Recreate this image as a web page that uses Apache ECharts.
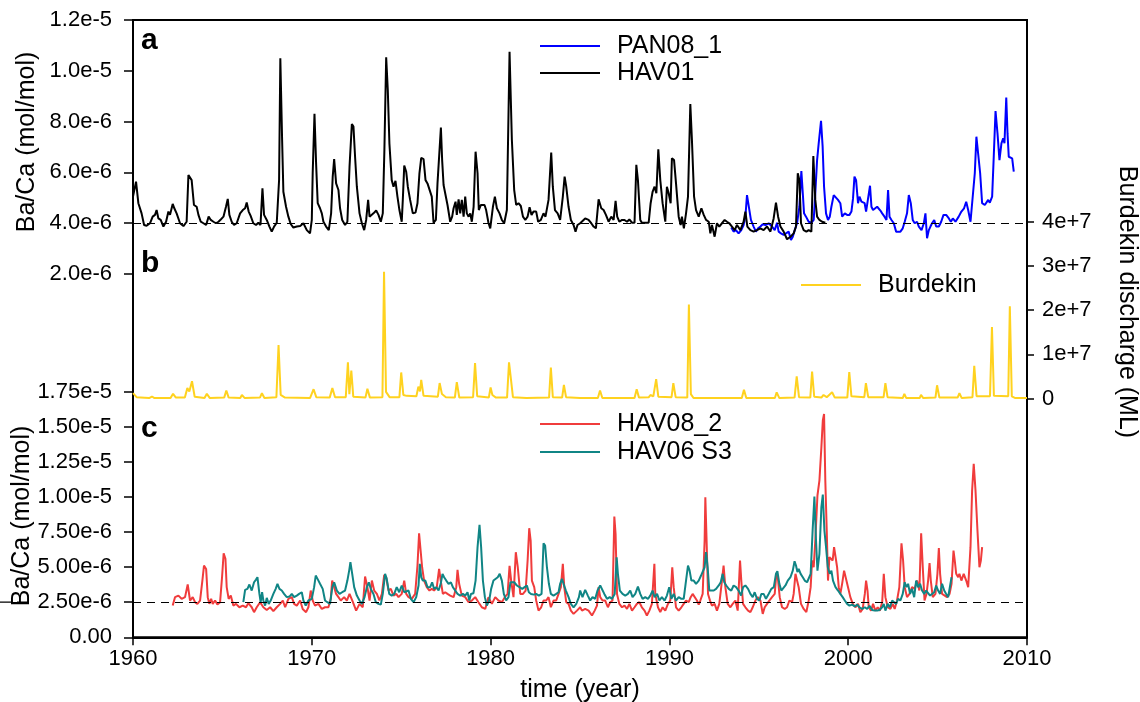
<!DOCTYPE html>
<html>
<head>
<meta charset="utf-8">
<script src="https://cdn.jsdelivr.net/npm/echarts@6/dist/echarts.min.js"></script>
<style>
  html, body { margin: 0; padding: 0; background: #ffffff; }
  #chart { width: 1140px; height: 702px; }
</style>
</head>
<body>
<div id="chart"></div>
<script>
// Ba/Ca records in units of 1e-6 mol/mol, as [decimal year, value]
const pan08_1 = [
  [1993.46,3.82],[1993.59,3.66],[1993.72,3.72],[1993.87,3.59],[1994.02,3.72],[1994.15,3.92],[1994.25,4.25],[1994.34,5.10],[1994.45,5.04],[1994.56,4.12],
  [1994.71,3.86],[1994.84,3.66],[1994.96,3.79],[1995.09,3.86],[1995.22,3.95],[1995.37,3.92],[1995.55,3.99],[1995.74,3.86],[1995.89,3.72],[1996.02,4.01],
  [1996.11,3.66],[1996.24,3.59],[1996.39,3.53],[1996.52,3.59],[1996.67,3.66],[1996.80,3.33],[1996.90,3.46],[1997.01,3.72],[1997.14,3.99],[1997.27,4.64],
  [1997.38,6.05],[1997.46,5.17],[1997.53,4.38],[1997.64,4.25],[1997.79,4.05],[1997.94,4.01],[1998.07,4.12],[1998.16,5.17],[1998.26,6.48],[1998.35,7.14],
  [1998.48,8.03],[1998.57,7.01],[1998.65,5.43],[1998.76,4.38],[1998.87,4.12],[1998.97,4.25],[1999.06,4.64],[1999.19,5.10],[1999.28,5.04],[1999.43,4.91],
  [1999.56,4.78],[1999.66,4.25],[1999.81,4.38],[1999.94,4.32],[2000.07,4.32],[2000.18,4.45],[2000.27,4.97],[2000.35,5.83],[2000.44,5.69],[2000.55,4.78],
  [2000.63,5.04],[2000.74,4.84],[2000.83,4.91],[2000.92,4.78],[2001.00,4.45],[2001.11,4.45],[2001.22,5.47],[2001.30,4.64],[2001.39,4.51],[2001.48,4.54],
  [2001.62,4.64],[2001.71,4.67],[2001.80,4.49],[2001.90,4.38],[2002.03,4.25],[2002.14,4.12],[2002.23,5.30],[2002.31,4.25],[2002.42,4.12],[2002.55,3.99],
  [2002.68,3.66],[2002.79,3.72],[2002.92,3.66],[2003.05,3.79],[2003.16,4.05],[2003.29,4.38],[2003.39,5.10],[2003.50,4.78],[2003.61,4.12],[2003.72,3.99],
  [2003.85,4.05],[2003.95,3.86],[2004.10,3.72],[2004.23,3.99],[2004.32,4.38],[2004.41,3.40],[2004.51,3.72],[2004.60,3.86],[2004.69,3.99],[2004.81,4.12],
  [2004.92,3.86],[2005.07,3.86],[2005.20,4.05],[2005.33,4.32],[2005.48,4.32],[2005.63,4.18],[2005.74,4.05],[2005.85,4.18],[2006.00,4.05],[2006.09,3.99],
  [2006.18,4.25],[2006.33,4.45],[2006.48,4.58],[2006.60,4.84],[2006.71,4.51],[2006.84,4.05],[2006.93,4.05],[2007.08,5.96],[2007.17,7.40],[2007.27,7.47],
  [2007.38,5.96],[2007.49,4.78],[2007.64,4.71],[2007.73,4.64],[2007.83,4.91],[2007.92,4.80],[2008.05,5.04],[2008.14,6.61],[2008.24,8.41],[2008.35,7.53],
  [2008.46,6.48],[2008.57,7.14],[2008.67,7.34],[2008.74,7.14],[2008.84,8.94],[2008.91,7.53],[2008.98,6.61],[2009.08,6.68],[2009.17,6.55],[2009.26,6.02]
];

const hav01 = [
  [1960.00,5.04],[1960.17,5.63],[1960.30,4.78],[1960.48,4.38],[1960.62,3.92],[1960.76,3.89],[1960.95,3.99],[1961.10,4.25],[1961.23,4.32],[1961.32,4.51],
  [1961.42,4.18],[1961.55,4.12],[1961.70,3.86],[1961.85,4.05],[1961.98,4.45],[1962.07,4.32],[1962.22,4.75],[1962.31,4.58],[1962.44,4.38],[1962.63,3.99],
  [1962.82,3.88],[1963.00,4.05],[1963.10,5.89],[1963.28,5.69],[1963.41,4.71],[1963.56,4.64],[1963.66,4.32],[1963.79,4.05],[1963.94,3.99],[1964.09,3.92],
  [1964.23,4.25],[1964.35,4.12],[1964.50,4.05],[1964.64,3.99],[1964.78,4.05],[1964.91,4.14],[1965.06,4.25],[1965.20,4.64],[1965.30,4.95],[1965.39,4.32],
  [1965.52,4.05],[1965.65,3.92],[1965.80,3.99],[1965.99,4.38],[1966.14,4.51],[1966.27,4.58],[1966.36,4.81],[1966.47,4.45],[1966.58,4.28],[1966.73,3.99],
  [1966.88,3.92],[1967.01,4.01],[1967.13,3.92],[1967.24,5.37],[1967.33,4.32],[1967.48,4.12],[1967.63,3.86],[1967.76,3.66],[1967.89,3.86],[1968.04,4.01],
  [1968.17,5.69],[1968.24,10.49],[1968.34,7.27],[1968.41,5.23],[1968.56,4.64],[1968.69,4.25],[1968.82,3.96],[1968.97,3.82],[1969.16,3.86],[1969.35,3.88],
  [1969.53,3.99],[1969.72,3.72],[1969.90,3.59],[1970.00,4.12],[1970.05,5.96],[1970.15,8.30],[1970.24,6.35],[1970.33,4.78],[1970.46,4.58],[1970.56,4.38],
  [1970.65,4.05],[1970.80,3.86],[1970.95,3.72],[1971.08,4.38],[1971.17,5.83],[1971.25,6.52],[1971.36,5.56],[1971.49,5.30],[1971.58,4.58],[1971.70,4.12],
  [1971.86,3.92],[1971.99,4.05],[1972.11,6.22],[1972.24,7.90],[1972.33,7.80],[1972.42,6.61],[1972.52,5.43],[1972.67,4.38],[1972.80,3.99],[1972.93,3.72],
  [1973.04,4.12],[1973.15,4.91],[1973.23,4.25],[1973.30,4.25],[1973.45,4.38],[1973.60,4.49],[1973.73,4.32],[1973.86,4.05],[1973.97,4.38],[1974.06,6.88],
  [1974.16,10.53],[1974.25,9.24],[1974.34,7.14],[1974.47,5.69],[1974.57,5.43],[1974.68,5.66],[1974.79,5.04],[1974.90,4.51],[1975.03,4.05],[1975.09,4.91],
  [1975.17,6.26],[1975.28,6.02],[1975.37,5.43],[1975.50,4.91],[1975.65,4.38],[1975.80,4.41],[1975.91,4.78],[1976.02,5.96],[1976.12,6.57],[1976.25,6.52],
  [1976.36,5.69],[1976.47,5.56],[1976.58,5.59],[1976.71,5.04],[1976.81,4.01],[1976.94,4.12],[1977.03,5.56],[1977.22,7.76],[1977.29,6.48],[1977.37,5.50],
  [1977.48,5.56],[1977.59,4.71],[1977.74,4.05],[1977.85,4.25],[1977.93,4.58],[1978.04,4.84],[1978.11,4.32],[1978.21,4.93],[1978.30,4.38],[1978.39,4.91],
  [1978.49,4.25],[1978.58,5.04],[1978.67,4.38],[1978.77,4.25],[1978.86,4.38],[1978.95,4.05],[1979.05,4.64],[1979.16,6.81],[1979.27,5.96],[1979.34,4.51],
  [1979.46,4.71],[1979.57,4.64],[1979.66,4.71],[1979.75,4.51],[1979.88,4.01],[1979.98,3.79],[1980.13,4.64],[1980.24,5.04],[1980.35,4.58],[1980.50,4.38],
  [1980.63,4.12],[1980.76,3.99],[1980.91,4.51],[1981.06,10.75],[1981.19,7.27],[1981.32,5.30],[1981.43,4.71],[1981.56,4.78],[1981.69,4.67],[1981.81,4.25],
  [1981.94,4.12],[1982.07,4.25],[1982.18,4.62],[1982.29,4.32],[1982.40,4.45],[1982.55,4.45],[1982.66,4.05],[1982.81,4.12],[1982.96,4.38],[1983.07,4.25],
  [1983.24,4.91],[1983.39,6.78],[1983.48,5.43],[1983.60,4.51],[1983.75,4.38],[1983.89,4.12],[1984.04,5.04],[1984.14,5.83],[1984.23,5.43],[1984.36,4.64],
  [1984.49,4.12],[1984.64,3.92],[1984.75,3.66],[1984.86,3.92],[1985.01,3.99],[1985.11,4.05],[1985.29,4.18],[1985.48,4.12],[1985.63,3.99],[1985.76,3.86],
  [1985.89,3.79],[1986.04,4.93],[1986.19,4.58],[1986.32,4.51],[1986.45,4.32],[1986.60,4.05],[1986.75,4.25],[1986.88,4.12],[1986.99,4.87],[1987.08,4.25],
  [1987.20,4.05],[1987.35,4.12],[1987.49,4.12],[1987.63,4.05],[1987.76,4.14],[1987.91,4.01],[1988.05,4.01],[1988.15,6.29],[1988.24,5.69],[1988.37,4.12],
  [1988.46,4.01],[1988.65,4.01],[1988.84,4.01],[1988.95,4.78],[1989.06,5.23],[1989.17,5.43],[1989.27,5.17],[1989.38,6.90],[1989.49,5.69],[1989.62,4.78],
  [1989.77,4.05],[1989.86,5.43],[1989.96,5.17],[1990.07,4.78],[1990.14,6.55],[1990.26,6.48],[1990.37,5.56],[1990.52,4.25],[1990.63,3.92],[1990.70,4.25],
  [1990.81,3.79],[1990.93,4.38],[1991.04,5.04],[1991.17,8.69],[1991.26,7.27],[1991.38,5.04],[1991.49,4.51],[1991.64,4.25],[1991.79,4.58],[1991.92,4.32],
  [1992.05,4.12],[1992.20,4.05],[1992.29,3.59],[1992.38,3.92],[1992.53,3.46],[1992.66,3.99],[1992.79,3.86],[1992.94,3.99],[1993.09,4.12],[1993.22,4.05],
  [1993.35,3.99],[1993.50,3.86],[1993.65,3.72],[1993.78,3.92],[1993.97,3.72],[1994.15,4.05],[1994.25,4.45],[1994.36,3.86],[1994.53,3.72],[1994.71,3.66],
  [1994.90,3.72],[1995.09,3.79],[1995.27,3.72],[1995.46,3.86],[1995.65,3.66],[1995.83,4.18],[1995.96,4.80],[1996.08,4.25],[1996.21,3.86],[1996.39,3.66],
  [1996.58,3.36],[1996.77,3.46],[1996.95,3.59],[1997.08,3.86],[1997.18,5.96],[1997.27,5.69],[1997.36,3.99],[1997.51,3.72],[1997.66,3.66],[1997.79,3.72],
  [1997.94,3.66],[1998.05,6.64],[1998.16,4.91],[1998.26,4.25],[1998.39,4.12],[1998.54,4.05],[1998.72,4.01]
];

// Burdekin River discharge in millions of ML, as [decimal year, value]
const burdekin = [
  [1960.00,1.2],[1960.08,1.6],[1960.20,0.3],[1960.90,0.1],[1961.06,0.45],[1961.20,0.1],[1962.10,0.1],[1962.24,1.06],[1962.40,0.2],[1962.90,0.2],
  [1963.04,2.35],[1963.15,1.6],[1963.30,3.9],[1963.45,0.4],[1964.00,0.1],[1964.13,1.06],[1964.30,0.1],[1965.10,0.2],[1965.22,1.8],[1965.35,0.2],
  [1966.00,0.1],[1966.09,0.8],[1966.25,0.1],[1967.10,0.2],[1967.21,1.2],[1967.35,0.1],[1968.02,0.3],[1968.14,12.1],[1968.26,0.8],[1968.50,0.2],
  [1969.90,0.1],[1970.10,2.1],[1970.25,0.3],[1971.00,0.2],[1971.15,2.35],[1971.30,0.3],[1971.90,0.3],[1972.02,8.2],[1972.10,1.0],[1972.21,6.3],
  [1972.32,0.4],[1973.00,0.2],[1973.11,2.2],[1973.25,0.2],[1973.95,0.3],[1974.04,28.7],[1974.15,1.5],[1974.35,0.3],[1974.90,0.3],[1975.00,5.9],
  [1975.12,0.8],[1975.30,0.6],[1975.85,0.5],[1975.96,2.7],[1976.05,1.6],[1976.12,4.2],[1976.25,0.6],[1977.05,0.4],[1977.15,3.5],[1977.28,1.0],
  [1977.37,1.4],[1977.50,0.3],[1978.00,0.2],[1978.11,3.7],[1978.25,0.2],[1979.02,0.3],[1979.13,8.0],[1979.25,0.5],[1979.90,0.2],[1980.00,2.5],
  [1980.10,0.8],[1980.30,0.2],[1980.92,0.2],[1981.03,8.2],[1981.12,5.0],[1981.25,0.3],[1982.00,0.1],[1983.27,0.2],[1983.37,7.0],[1983.48,0.3],
  [1984.00,0.2],[1984.10,3.1],[1984.22,0.3],[1985.00,0.1],[1986.00,0.1],[1986.12,1.8],[1986.25,0.1],[1988.05,0.1],[1988.17,2.1],[1988.30,0.2],
  [1988.85,0.3],[1988.94,0.8],[1989.10,0.5],[1989.26,4.4],[1989.38,0.4],[1990.12,0.3],[1990.22,3.5],[1990.35,0.3],[1991.00,0.2],[1991.09,21.3],
  [1991.20,1.0],[1991.35,0.1],[1994.05,0.1],[1994.17,2.0],[1994.30,0.1],[1995.90,0.1],[1996.00,1.4],[1996.15,0.1],[1997.00,0.2],[1997.12,5.0],
  [1997.25,0.3],[1997.88,0.2],[1997.98,6.1],[1998.10,0.4],[1998.50,0.2],[1998.62,0.8],[1998.80,0.3],[1999.10,1.4],[1999.25,0.2],[1999.95,0.2],
  [2000.06,6.0],[2000.18,0.5],[2000.90,0.3],[2000.99,3.5],[2001.12,0.3],[2001.98,0.3],[2002.08,3.5],[2002.20,0.3],[2003.05,0.1],[2003.14,1.06],
  [2003.25,0.1],[2004.00,0.1],[2004.07,0.8],[2004.20,0.1],[2004.88,0.2],[2004.97,3.0],[2005.10,0.2],[2006.12,0.2],[2006.22,1.2],[2006.35,0.1],
  [2006.95,0.3],[2007.05,7.4],[2007.18,0.5],[2007.93,0.5],[2008.04,16.2],[2008.15,0.6],[2008.95,0.5],[2009.04,20.9],[2009.15,0.5],[2009.35,0.1],
  [2010.00,0.1]
];

// Ba/Ca records in units of 1e-6 mol/mol, as [decimal year, value]
const hav08_2 = [
  [1962.22,2.26],[1962.35,2.86],[1962.54,2.97],[1962.72,2.74],[1962.91,2.86],[1963.06,3.76],[1963.19,2.62],[1963.34,2.86],[1963.47,2.50],[1963.60,2.38],
  [1963.75,2.62],[1963.88,4.04],[1963.97,5.11],[1964.09,4.87],[1964.18,2.86],[1964.27,2.38],[1964.37,2.74],[1964.46,2.38],[1964.59,2.62],[1964.72,2.33],
  [1964.87,2.50],[1964.98,4.28],[1965.07,5.99],[1965.17,5.59],[1965.24,3.57],[1965.35,2.74],[1965.47,2.97],[1965.61,2.26],[1965.76,2.38],[1965.95,2.14],
  [1966.14,2.26],[1966.32,2.14],[1966.45,2.43],[1966.64,2.14],[1966.77,1.79],[1966.92,2.14],[1967.11,2.50],[1967.29,2.14],[1967.48,1.95],[1967.67,2.14],
  [1967.85,1.86],[1968.04,2.14],[1968.23,2.38],[1968.38,2.62],[1968.51,2.14],[1968.69,2.74],[1968.88,2.86],[1969.01,2.38],[1969.16,2.26],[1969.35,2.62],
  [1969.49,2.02],[1969.68,1.79],[1969.81,2.14],[1969.94,3.33],[1970.05,2.62],[1970.18,2.26],[1970.37,2.38],[1970.56,2.02],[1970.74,2.14],[1970.93,2.14],
  [1971.06,2.74],[1971.14,4.04],[1971.25,3.92],[1971.36,3.09],[1971.49,2.86],[1971.62,2.62],[1971.81,2.86],[1971.96,2.62],[1972.11,3.09],[1972.30,2.50],
  [1972.48,1.90],[1972.67,2.38],[1972.85,2.14],[1972.98,4.33],[1973.11,3.57],[1973.23,2.62],[1973.36,4.04],[1973.49,3.33],[1973.64,3.09],[1973.78,2.62],
  [1973.92,3.09],[1974.05,4.45],[1974.16,4.28],[1974.29,3.33],[1974.42,3.45],[1974.57,2.97],[1974.72,3.09],[1974.85,2.86],[1975.03,3.09],[1975.17,4.04],
  [1975.28,3.09],[1975.41,2.86],[1975.59,2.74],[1975.78,3.09],[1975.91,5.11],[1976.00,7.41],[1976.08,7.36],[1976.17,4.99],[1976.28,4.04],[1976.43,3.57],
  [1976.58,3.33],[1976.71,3.45],[1976.84,3.33],[1976.99,3.57],[1977.12,4.87],[1977.21,4.04],[1977.33,3.09],[1977.46,3.21],[1977.59,3.09],[1977.74,2.97],
  [1977.93,2.86],[1978.08,3.57],[1978.15,4.80],[1978.24,3.81],[1978.39,2.97],[1978.58,2.86],[1978.77,2.50],[1978.95,2.62],[1979.14,2.86],[1979.32,2.50],
  [1979.51,2.14],[1979.70,2.02],[1979.88,2.86],[1980.07,2.38],[1980.26,2.86],[1980.44,2.62],[1980.63,2.50],[1980.82,2.90],[1980.95,3.09],[1981.06,5.09],
  [1981.15,4.04],[1981.28,2.86],[1981.41,6.06],[1981.52,4.99],[1981.66,3.09],[1981.81,3.09],[1981.96,3.33],[1982.07,5.47],[1982.16,7.77],[1982.24,6.89],
  [1982.31,4.04],[1982.44,3.57],[1982.55,2.62],[1982.68,1.90],[1982.83,2.14],[1982.96,2.62],[1983.11,2.62],[1983.24,2.86],[1983.37,2.14],[1983.52,2.62],
  [1983.67,2.62],[1983.80,3.09],[1983.93,3.57],[1984.04,5.23],[1984.12,3.57],[1984.23,2.50],[1984.36,2.38],[1984.49,1.90],[1984.64,1.67],[1984.83,1.90],
  [1985.01,2.14],[1985.11,1.90],[1985.29,2.02],[1985.48,1.90],[1985.67,1.55],[1985.82,1.90],[1985.95,2.26],[1986.04,3.57],[1986.13,2.86],[1986.26,2.62],
  [1986.41,2.62],[1986.56,2.14],[1986.69,2.50],[1986.82,2.62],[1986.92,8.60],[1986.99,7.36],[1987.07,3.09],[1987.20,2.38],[1987.35,2.14],[1987.49,2.26],
  [1987.63,2.02],[1987.76,2.38],[1987.91,1.90],[1988.05,2.14],[1988.18,2.38],[1988.32,2.50],[1988.46,2.14],[1988.61,1.90],[1988.74,1.55],[1988.88,1.90],
  [1989.02,2.38],[1989.16,5.23],[1989.21,3.09],[1989.36,2.14],[1989.49,1.79],[1989.62,2.14],[1989.77,1.90],[1989.92,2.38],[1990.05,2.62],[1990.16,4.99],
  [1990.24,3.57],[1990.37,2.14],[1990.52,1.90],[1990.67,2.14],[1990.80,2.38],[1990.93,2.62],[1991.08,2.50],[1991.19,2.86],[1991.30,3.09],[1991.41,2.97],
  [1991.54,2.62],[1991.64,2.33],[1991.73,2.62],[1991.86,3.09],[1991.97,6.89],[1992.01,9.97],[1992.08,6.89],[1992.16,3.09],[1992.27,2.62],[1992.38,2.26],
  [1992.53,2.38],[1992.66,1.90],[1992.79,2.38],[1992.94,4.04],[1993.03,5.11],[1993.13,3.57],[1993.26,2.38],[1993.41,2.14],[1993.54,2.38],[1993.69,2.62],
  [1993.82,1.90],[1993.95,5.47],[1994.02,4.04],[1994.12,2.38],[1994.25,2.14],[1994.40,1.90],[1994.53,1.79],[1994.66,2.14],[1994.81,2.62],[1994.94,2.86],
  [1995.09,2.62],[1995.22,1.67],[1995.33,2.14],[1995.46,2.38],[1995.59,2.62],[1995.74,2.86],[1995.89,3.09],[1995.98,4.52],[1996.06,4.28],[1996.17,2.86],
  [1996.30,2.14],[1996.45,2.02],[1996.58,2.14],[1996.71,2.62],[1996.86,2.50],[1996.95,3.09],[1997.05,4.52],[1997.14,4.64],[1997.23,3.57],[1997.36,2.38],
  [1997.51,2.02],[1997.66,1.79],[1997.79,2.62],[1997.90,3.57],[1997.98,5.47],[1998.07,4.99],[1998.16,6.89],[1998.28,10.10],[1998.39,11.16],[1998.50,13.54],
  [1998.58,15.44],[1998.65,15.91],[1998.72,11.16],[1998.80,7.60],[1998.87,4.04],[1998.95,5.71],[1999.02,5.83],[1999.13,5.47],[1999.21,6.42],[1999.29,6.54],
  [1999.38,4.99],[1999.47,3.57],[1999.56,3.09],[1999.66,3.81],[1999.77,4.75],[1999.88,4.64],[1999.99,3.57],[2000.12,2.86],[2000.26,2.38],[2000.40,2.14],
  [2000.55,2.38],[2000.68,1.79],[2000.81,2.02],[2000.93,3.09],[2001.00,4.04],[2001.08,3.33],[2001.15,2.14],[2001.28,1.90],[2001.39,2.38],[2001.52,1.90],
  [2001.65,2.14],[2001.77,1.90],[2001.90,2.50],[2001.99,4.52],[2002.08,2.86],[2002.21,2.14],[2002.36,2.02],[2002.49,2.38],[2002.60,2.02],[2002.73,2.62],
  [2002.86,3.57],[2002.98,6.70],[2003.07,5.47],[2003.16,3.57],[2003.29,2.86],[2003.43,3.09],[2003.57,3.57],[2003.72,3.45],[2003.85,4.04],[2003.98,3.33],
  [2004.08,7.41],[2004.17,4.99],[2004.27,2.62],[2004.38,3.09],[2004.47,4.04],[2004.55,5.28],[2004.62,4.04],[2004.73,2.86],[2004.88,3.09],[2004.99,4.52],
  [2005.07,6.35],[2005.14,4.52],[2005.25,3.09],[2005.40,2.97],[2005.53,2.86],[2005.67,3.09],[2005.78,3.81],[2005.89,6.18],[2005.96,5.47],[2006.04,4.52],
  [2006.15,4.28],[2006.22,4.52],[2006.33,4.04],[2006.46,4.52],[2006.60,4.04],[2006.71,3.57],[2006.84,6.42],[2006.93,10.46],[2007.02,12.35],[2007.12,10.46],
  [2007.23,7.60],[2007.34,4.99],[2007.42,5.47],[2007.49,6.42]
];

const hav06_s3 = [
  [1966.17,2.50],[1966.27,3.38],[1966.40,3.45],[1966.51,3.76],[1966.64,3.33],[1966.77,3.92],[1966.88,4.11],[1966.96,4.28],[1967.07,3.09],[1967.14,2.50],
  [1967.22,3.21],[1967.29,2.62],[1967.39,2.26],[1967.48,2.81],[1967.59,2.38],[1967.70,2.62],[1967.85,3.09],[1967.98,3.45],[1968.08,3.81],[1968.19,3.45],
  [1968.32,3.33],[1968.45,3.09],[1968.60,2.86],[1968.75,2.90],[1968.88,3.09],[1969.01,2.86],[1969.16,2.97],[1969.29,3.09],[1969.44,3.21],[1969.53,2.62],
  [1969.66,2.26],[1969.81,2.62],[1970.00,2.74],[1970.13,3.57],[1970.22,4.40],[1970.32,4.16],[1970.46,3.81],[1970.61,3.45],[1970.74,2.62],[1970.87,2.50],
  [1971.02,2.38],[1971.15,3.57],[1971.25,3.92],[1971.40,3.33],[1971.55,3.09],[1971.70,3.21],[1971.86,3.33],[1971.99,4.04],[1972.09,4.75],[1972.16,5.35],
  [1972.26,4.52],[1972.37,3.57],[1972.52,2.97],[1972.67,2.62],[1972.80,2.38],[1972.95,2.86],[1973.08,3.57],[1973.19,3.92],[1973.30,3.45],[1973.45,3.09],
  [1973.58,2.50],[1973.73,2.38],[1973.86,2.33],[1973.97,3.09],[1974.10,4.52],[1974.19,4.16],[1974.33,3.09],[1974.47,2.97],[1974.61,3.09],[1974.75,3.57],
  [1974.89,3.21],[1975.03,3.69],[1975.17,3.21],[1975.28,3.09],[1975.41,3.33],[1975.54,2.74],[1975.69,2.50],[1975.84,2.86],[1975.97,3.69],[1976.04,5.23],
  [1976.12,4.28],[1976.21,4.04],[1976.35,4.04],[1976.47,3.57],[1976.62,3.57],[1976.73,3.92],[1976.84,3.45],[1976.96,3.57],[1977.09,3.33],[1977.21,3.81],
  [1977.31,4.52],[1977.40,4.28],[1977.52,4.04],[1977.65,3.81],[1977.78,3.92],[1977.89,3.57],[1978.02,3.33],[1978.15,3.09],[1978.30,2.97],[1978.45,3.09],
  [1978.58,2.97],[1978.71,3.21],[1978.81,2.62],[1978.90,3.09],[1979.04,3.14],[1979.16,4.04],[1979.27,6.42],[1979.38,8.01],[1979.47,6.42],[1979.57,4.04],
  [1979.68,2.86],[1979.79,2.26],[1979.92,2.62],[1980.03,3.45],[1980.16,4.04],[1980.27,3.92],[1980.40,4.28],[1980.51,4.52],[1980.63,4.04],[1980.74,3.09],
  [1980.87,2.62],[1981.00,2.86],[1981.11,3.92],[1981.19,3.81],[1981.32,3.92],[1981.47,3.69],[1981.62,3.57],[1981.77,3.45],[1981.90,3.57],[1982.03,3.69],
  [1982.14,3.21],[1982.26,3.09],[1982.41,3.04],[1982.55,3.09],[1982.70,2.97],[1982.85,3.09],[1982.96,6.70],[1983.05,6.54],[1983.15,4.99],[1983.26,3.81],
  [1983.37,3.09],[1983.52,2.97],[1983.67,3.09],[1983.80,3.21],[1983.89,3.81],[1983.99,4.16],[1984.08,3.81],[1984.21,3.33],[1984.36,2.86],[1984.49,2.38],
  [1984.64,2.14],[1984.79,2.38],[1984.94,2.86],[1985.01,3.33],[1985.14,2.86],[1985.29,3.38],[1985.44,2.97],[1985.57,2.62],[1985.70,2.86],[1985.85,2.74],
  [1985.98,3.33],[1986.13,3.69],[1986.23,3.81],[1986.36,3.09],[1986.51,2.74],[1986.66,2.86],[1986.79,2.74],[1986.94,3.09],[1987.05,5.70],[1987.12,4.52],
  [1987.23,3.33],[1987.38,3.09],[1987.53,2.97],[1987.68,3.09],[1987.81,3.33],[1987.94,2.86],[1988.09,3.09],[1988.24,3.61],[1988.37,3.09],[1988.50,2.74],
  [1988.65,2.86],[1988.80,2.74],[1988.93,2.97],[1989.06,3.33],[1989.17,2.86],[1989.31,3.09],[1989.44,2.62],[1989.58,2.86],[1989.73,2.62],[1989.86,2.97],
  [1989.99,3.57],[1990.11,2.74],[1990.24,3.09],[1990.37,2.62],[1990.52,2.86],[1990.67,2.74],[1990.80,2.74],[1990.93,4.04],[1991.04,5.11],[1991.13,4.75],
  [1991.23,4.04],[1991.36,4.04],[1991.49,3.81],[1991.64,4.04],[1991.77,4.40],[1991.88,4.52],[1991.97,4.99],[1992.05,6.06],[1992.14,4.99],[1992.23,3.33],
  [1992.34,3.21],[1992.48,3.33],[1992.61,3.45],[1992.76,3.69],[1992.87,3.92],[1992.98,4.52],[1993.07,3.92],[1993.18,3.69],[1993.32,3.45],[1993.46,3.33],
  [1993.59,3.69],[1993.73,3.57],[1993.87,3.33],[1994.01,2.97],[1994.12,3.57],[1994.25,3.69],[1994.40,3.45],[1994.53,3.09],[1994.66,2.86],[1994.77,3.21],
  [1994.90,2.74],[1995.03,2.62],[1995.14,3.09],[1995.27,3.09],[1995.40,2.74],[1995.55,3.09],[1995.70,3.45],[1995.84,3.57],[1995.96,4.52],[1996.04,4.71],
  [1996.15,3.81],[1996.26,3.33],[1996.37,3.45],[1996.49,3.69],[1996.62,4.04],[1996.77,4.28],[1996.90,4.75],[1997.00,5.42],[1997.08,5.11],[1997.16,4.64],
  [1997.23,4.87],[1997.34,4.52],[1997.46,4.28],[1997.57,4.04],[1997.70,3.92],[1997.79,4.04],[1997.90,4.52],[1998.01,7.60],[1998.11,10.02],[1998.20,6.89],
  [1998.28,4.75],[1998.39,5.95],[1998.50,9.27],[1998.58,10.17],[1998.67,7.60],[1998.76,6.42],[1998.86,4.99],[1998.97,4.52],[1999.06,4.75],[1999.15,4.04],
  [1999.29,3.57],[1999.43,3.33],[1999.56,3.09],[1999.69,2.86],[1999.81,2.62],[1999.94,2.38],[2000.07,2.26],[2000.22,2.33],[2000.37,2.19],[2000.50,2.33],
  [2000.63,2.14],[2000.78,2.02],[2000.93,2.14],[2001.06,2.02],[2001.19,2.24],[2001.34,1.95],[2001.48,1.90],[2001.62,1.90],[2001.75,1.95],[2001.90,2.14],
  [2001.99,2.38],[2002.08,1.90],[2002.21,2.38],[2002.33,2.14],[2002.46,2.62],[2002.55,2.50],[2002.68,2.38],[2002.79,2.74],[2002.92,2.62],[2003.05,3.09],
  [2003.16,3.92],[2003.26,3.57],[2003.35,3.81],[2003.46,3.09],[2003.57,3.45],[2003.69,2.86],[2003.80,4.04],[2003.91,3.57],[2004.02,3.81],[2004.13,3.33],
  [2004.25,3.09],[2004.36,3.33],[2004.47,3.45],[2004.58,2.97],[2004.69,3.09],[2004.81,3.21],[2004.92,3.69],[2005.03,3.33],[2005.14,3.09],[2005.25,3.81],
  [2005.37,3.33],[2005.48,3.09],[2005.59,2.86],[2005.70,2.97],[2005.78,4.28]
];

// reference levels (1e-6 mol/mol)
const baselineTop = 4.0;
const baselineBottom = 2.5;

// axis ranges and tick steps
const yearRange = [1960, 2010, 10];
const topRange = [2, 12, 2];          // Ba/Ca, 1e-6 mol/mol
const dischargeRange = [0, 4e7, 1e7]; // ML
const bottomRange = [0, 17.5, 2.5];   // Ba/Ca, 1e-6 mol/mol

const FONT = '"Liberation Sans", Arial, sans-serif';
const SCALE = 1e-6;

const chart = echarts.init(document.getElementById('chart'), null, { renderer: 'canvas' });

const L = 133, R = 113;
const frameTop = 20, frameBottom = 64.7;

function hiddenX(gridIndex) {
  return {
    type: 'value', gridIndex, min: yearRange[0], max: yearRange[1], interval: yearRange[2],
    show: false
  };
}

const tickLabel = { fontFamily: FONT, fontSize: 22, color: '#000' };
const legendText = { fontFamily: FONT, fontSize: 25, color: '#000', padding: [0, 0, 0, 12], lineHeight: 25 };

const option = {
  animation: false,
  backgroundColor: '#ffffff',
  grid: [
    // outer frame carrying the shared time axis
    { left: L, right: R, top: frameTop, bottom: frameBottom, show: true, borderColor: '#000', borderWidth: 2, backgroundColor: 'transparent' },
    // a: Ba/Ca
    { left: L, right: R, top: frameTop, height: 253.75 },
    // b: discharge
    { left: L, right: R, top: 221.9, height: 176.6 },
    // c: Ba/Ca
    { left: L, right: R, top: 391.6, bottom: frameBottom }
  ],
  xAxis: [
    {
      type: 'value', gridIndex: 0, min: yearRange[0], max: yearRange[1], interval: yearRange[2],
      axisLine: { show: true, lineStyle: { color: '#000', width: 2 } },
      axisTick: { show: true, inside: false, length: 8, lineStyle: { color: '#000', width: 1.5 } },
      axisLabel: { ...tickLabel, margin: 11, formatter: v => String(v) },
      splitLine: { show: false }
    },
    hiddenX(1), hiddenX(2), hiddenX(3)
  ],
  yAxis: [
    { type: 'value', gridIndex: 0, min: 0, max: 1, show: false },
    {
      type: 'value', gridIndex: 1, position: 'left',
      min: topRange[0], max: topRange[1], interval: topRange[2],
      axisLine: { show: true, lineStyle: { color: '#000', width: 2 } },
      axisTick: { show: true, inside: false, length: 9, lineStyle: { color: '#000', width: 1.5 } },
      axisLabel: { ...tickLabel, margin: 21, formatter: v => (v * SCALE).toExponential(1) },
      splitLine: { show: false }
    },
    {
      type: 'value', gridIndex: 2, position: 'right',
      min: dischargeRange[0], max: dischargeRange[1], interval: dischargeRange[2],
      axisLine: { show: true, lineStyle: { color: '#000', width: 2 } },
      axisTick: { show: true, inside: false, length: 7, lineStyle: { color: '#000', width: 1.5 } },
      axisLabel: { ...tickLabel, margin: 15, formatter: v => v === 0 ? '0' : v.toExponential(0) },
      splitLine: { show: false }
    },
    {
      type: 'value', gridIndex: 3, position: 'left',
      min: bottomRange[0], max: bottomRange[1], interval: bottomRange[2],
      axisLine: { show: true, lineStyle: { color: '#000', width: 2 } },
      axisTick: { show: true, inside: false, length: 9, lineStyle: { color: '#000', width: 1.5 } },
      axisLabel: { ...tickLabel, margin: 21, formatter: v => v === 0 ? '0.00' : (v * SCALE).toExponential(2) },
      splitLine: { show: false }
    }
  ],
  legend: [
    {
      data: ['PAN08_1', 'HAV01'], orient: 'vertical', left: 535, top: 28.5,
      icon: 'rect', itemWidth: 60, itemHeight: 2, itemGap: 2,
      textStyle: legendText
    },
    {
      data: ['Burdekin'], orient: 'vertical', left: 796, top: 267.5,
      icon: 'rect', itemWidth: 60, itemHeight: 2,
      textStyle: legendText
    },
    {
      data: ['HAV08_2', 'HAV06 S3'], orient: 'vertical', left: 535, top: 406.5,
      icon: 'rect', itemWidth: 60, itemHeight: 2, itemGap: 3,
      textStyle: legendText
    }
  ],
  series: [
    {
      name: 'PAN08_1', type: 'line', xAxisIndex: 1, yAxisIndex: 1, data: pan08_1,
      showSymbol: false, symbol: 'none', color: '#0000ff', lineStyle: { width: 2, color: '#0000ff' }
    },
    {
      name: 'HAV01', type: 'line', xAxisIndex: 1, yAxisIndex: 1, data: hav01,
      showSymbol: false, symbol: 'none', color: '#000000', lineStyle: { width: 2, color: '#000000' },
      markLine: {
        silent: true, symbol: 'none', label: { show: false },
        lineStyle: { color: '#000', type: [8, 6], width: 1.2 },
        data: [{ yAxis: baselineTop }]
      }
    },
    {
      name: 'Burdekin', type: 'line', xAxisIndex: 2, yAxisIndex: 2,
      data: burdekin.map(d => [d[0], d[1] * 1e6]),
      showSymbol: false, symbol: 'none', color: '#ffd21f', lineStyle: { width: 2, color: '#ffd21f' }
    },
    {
      name: 'HAV08_2', type: 'line', xAxisIndex: 3, yAxisIndex: 3, data: hav08_2,
      showSymbol: false, symbol: 'none', color: '#f03c3c', lineStyle: { width: 2, color: '#f03c3c' },
      markLine: {
        silent: true, symbol: 'none', label: { show: false },
        lineStyle: { color: '#000', type: [8, 6], width: 1.2 },
        data: [{ yAxis: baselineBottom }]
      }
    },
    {
      name: 'HAV06 S3', type: 'line', xAxisIndex: 3, yAxisIndex: 3, data: hav06_s3,
      showSymbol: false, symbol: 'none', color: '#108585', lineStyle: { width: 2, color: '#108585' }
    }
  ],
  graphic: [
    { type: 'text', left: 141, top: 26, style: { text: 'a', fontFamily: FONT, fontWeight: 'bold', fontSize: 30, fill: '#000' } },
    { type: 'text', left: 141, top: 249, style: { text: 'b', fontFamily: FONT, fontWeight: 'bold', fontSize: 30, fill: '#000' } },
    { type: 'text', left: 141, top: 414, style: { text: 'c', fontFamily: FONT, fontWeight: 'bold', fontSize: 30, fill: '#000' } },
    {
      type: 'text', x: 27, y: 142, rotation: Math.PI / 2,
      style: { text: 'Ba/Ca (mol/mol)', fontFamily: FONT, fontSize: 25, fill: '#000', align: 'center', verticalAlign: 'middle' }
    },
    {
      type: 'text', x: 22, y: 516, rotation: Math.PI / 2,
      style: { text: 'Ba/Ca (mol/mol)', fontFamily: FONT, fontSize: 25, fill: '#000', align: 'center', verticalAlign: 'middle' }
    },
    {
      type: 'text', x: 1127, y: 302, rotation: -Math.PI / 2,
      style: { text: 'Burdekin discharge (ML)', fontFamily: FONT, fontSize: 25, fill: '#000', align: 'center', verticalAlign: 'middle' }
    },
    {
      type: 'text', x: 580, y: 690,
      style: { text: 'time (year)', fontFamily: FONT, fontSize: 25, fill: '#000', align: 'center', verticalAlign: 'middle' }
    }
  ]
};

chart.setOption(option);

// short dashed lead-in at the lower reference level, left of the tick labels
const yRef = chart.convertToPixel({ yAxisIndex: 3 }, baselineBottom);
chart.setOption({
  graphic: option.graphic.concat([{
    type: 'line', shape: { x1: 0, y1: yRef, x2: 33, y2: yRef },
    style: { stroke: '#000', lineWidth: 1.2, lineDash: [12, 5] }
  }])
});
</script>
</body>
</html>
